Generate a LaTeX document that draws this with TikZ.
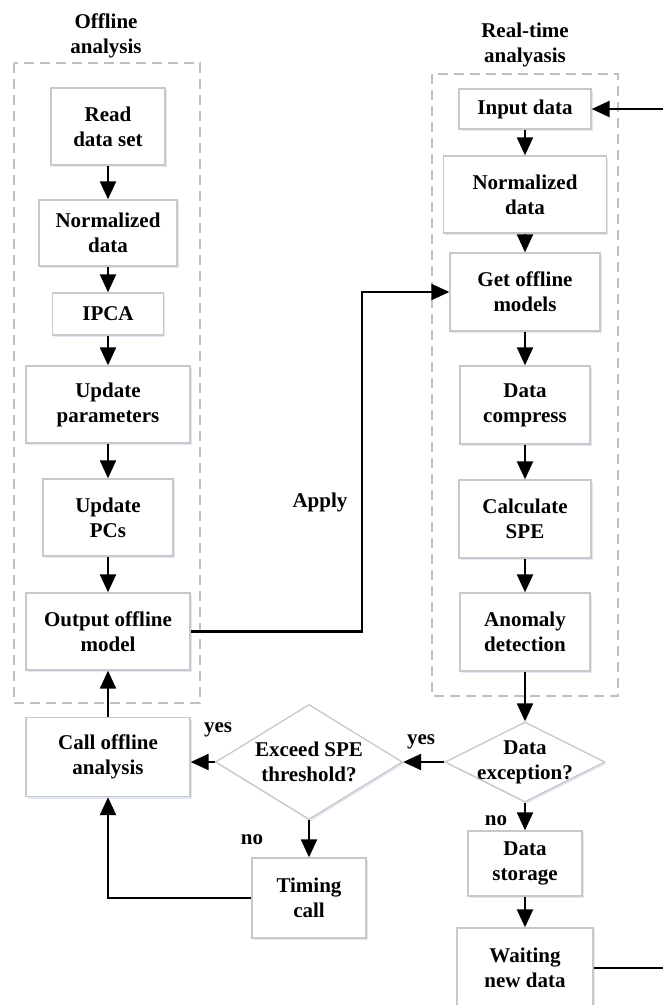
\documentclass[tikz,border=0pt]{standalone}
\usepackage{fontspec}
\setmainfont{Liberation Serif}
\usetikzlibrary{arrows.meta,shapes.geometric,shadows}
\definecolor{boxgray}{RGB}{200,200,200}
\definecolor{dashgray}{RGB}{192,192,192}
\definecolor{shadowblue}{RGB}{170,190,225}
\begin{document}
\begin{tikzpicture}[x=1pt,y=-1pt,
  font=\bfseries\fontsize{21}{25}\selectfont,
  box/.style={draw=boxgray, line width=1.3pt, fill=white, rectangle, align=center, inner sep=0pt,
    drop shadow={shadow xshift=1.5pt, shadow yshift=-2pt, fill=shadowblue, opacity=0.35}},
  wh/.style 2 args={minimum width=#1pt, minimum height=#2pt},
  dia/.style={draw=boxgray, line width=1.3pt, fill=white, diamond, inner sep=0pt,
    drop shadow={shadow xshift=1.5pt, shadow yshift=-2pt, fill=shadowblue, opacity=0.35}},
  dtext/.style={align=center, inner sep=0pt},
  dashbox/.style={draw=dashgray, line width=1.4pt, dash pattern=on 10pt off 6pt},
  arr/.style={line width=2.2pt, -{Triangle[length=18pt,width=16pt]}},
  lbl/.style={inner sep=0pt, align=center}
]
\useasboundingbox (0,0) rectangle (662,1005);

% group frames
\draw[dashbox] (14,63) rectangle (200,703);
\draw[dashbox] (432,74) rectangle (618,696);

% titles
\node[lbl] (t1) at (106,36) {Offline\\analysis};
\node[lbl] (t2) at (525,45) {Real-time\\analyasis};

% offline column
\node[box, wh={114}{77}] (read) at (108,126.5) {Read\\data set};
\node[box, wh={138}{66}] (norm1) at (108,233) {Normalized\\data};
\node[box, wh={111}{42}] (ipca) at (108,314) {IPCA};
\node[box, wh={164}{77}] (upar) at (108,404.5) {Update\\parameters};
\node[box, wh={130}{77}] (upcs) at (108,517.5) {Update\\PCs};
\node[box, wh={164}{77}] (out) at (108,631.5) {Output offline\\model};
\node[box, wh={164}{79}] (call) at (108,757) {Call offline\\analysis};

% decision on SPE
\node[dia, minimum width=187pt, minimum height=115pt,
  label={[dtext]center:Exceed SPE\\threshold?}] (exceed) at (309,762) {};
\node[box, wh={114}{80}] (timing) at (309,898) {Timing\\call};

% real-time column
\node[box, wh={132}{40}] (input) at (525,109) {Input data};
\node[box, wh={163}{77}] (norm2) at (525,194.5) {Normalized\\data};
\node[box, wh={150}{78}] (get) at (525,292) {Get offline\\models};
\node[box, wh={130}{78}] (comp) at (525,405) {Data\\compress};
\node[box, wh={132}{78}] (spe) at (525,519) {Calculate\\SPE};
\node[box, wh={130}{78}] (anom) at (525,632) {Anomaly\\detection};
\node[dia, minimum width=160pt, minimum height=80pt,
  label={[dtext]center:Data\\exception?}] (exc) at (525,762) {};
\node[box, wh={114}{65}] (store) at (525,863.5) {Data\\storage};
\node[box, wh={136}{80}] (wait) at (525,968) {Waiting\\new data};

% labels
\node[lbl] (yes1) at (218,730) {yes};
\node[lbl] (yes2) at (421,742) {yes};
\node[lbl] (no1) at (252,840) {no};
\node[lbl] (no2) at (496,821) {no};
\node[lbl] (apply) at (320,502) {Apply};

% helper coordinates
\coordinate (bend) at (362,460);
\coordinate (redge) at (664,500);

% offline connectors
\draw[arr] (read) -- (norm1);
\draw[arr] (norm1) -- (ipca);
\draw[arr] (ipca) -- (upar);
\draw[arr] (upar) -- (upcs);
\draw[arr] (upcs) -- (out);
\draw[arr] (call) -- (out);
\draw[arr] (out.east) -| (bend) |- (get.west);

% real-time connectors
\draw[arr] (input) -- (norm2);
\draw[arr] (norm2) -- (get);
\draw[arr] (get) -- (comp);
\draw[arr] (comp) -- (spe);
\draw[arr] (spe) -- (anom);
\draw[arr] (anom) -- (exc);
\draw[arr] (exc.west) -- (exceed.east);
\draw[arr] (exceed.west) -- (exceed.west -| call.east);
\draw[arr] (exceed) -- (timing);
\draw[arr] (timing.west) -| (call.south);
\draw[arr] (exc) -- (store);
\draw[arr] (store) -- (wait);
\draw[arr] (wait.east) -| (redge) |- (input.east);
\end{tikzpicture}
\end{document}
